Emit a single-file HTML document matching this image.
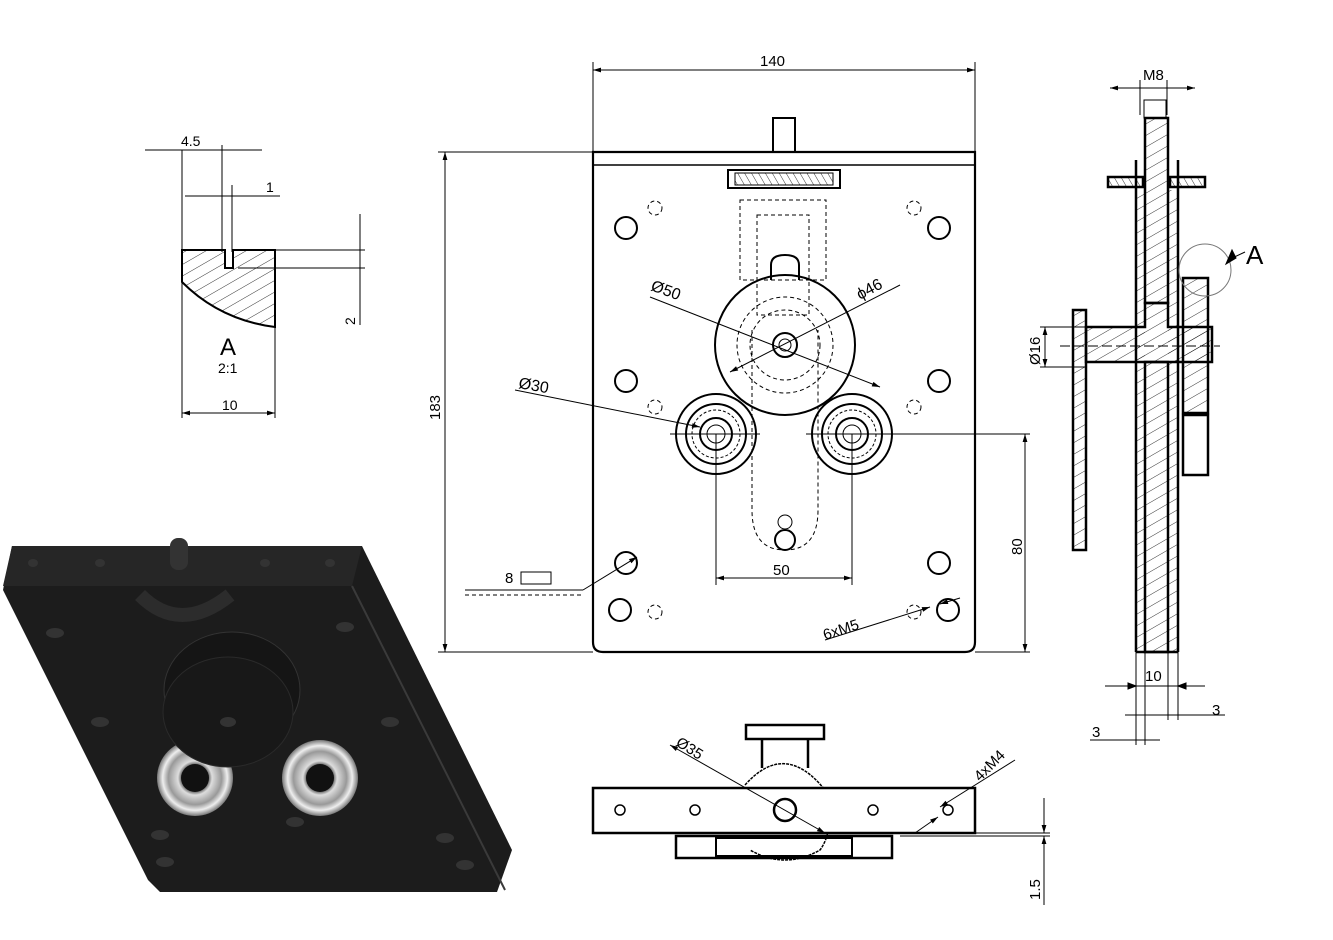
<!DOCTYPE html>
<html><head><meta charset="utf-8"><style>
html,body{margin:0;padding:0;background:#fff;}
svg{display:block;font-family:"Liberation Sans",sans-serif;}
</style></head><body>
<svg width="1333" height="940" viewBox="0 0 1333 940" xmlns="http://www.w3.org/2000/svg">
<defs>
<pattern id="h" width="10" height="10" patternUnits="userSpaceOnUse" patternTransform="rotate(60)"><line x1="0" y1="0" x2="0" y2="10" stroke="#000" stroke-width="0.8"/></pattern>
<pattern id="h2" width="6" height="6" patternUnits="userSpaceOnUse" patternTransform="rotate(-30)"><line x1="0" y1="0" x2="0" y2="6" stroke="#000" stroke-width="0.8"/></pattern>
<marker id="a" viewBox="0 0 10 10" refX="10" refY="5" markerWidth="10" markerHeight="8" orient="auto-start-reverse"><path d="M0,2 L10,5 L0,8z" fill="#000"/></marker>
<radialGradient id="g" cx="0.5" cy="0.5" r="0.5"><stop offset="0.3" stop-color="#222"/><stop offset="0.45" stop-color="#ddd"/><stop offset="0.7" stop-color="#999"/><stop offset="0.85" stop-color="#eee"/><stop offset="1" stop-color="#777"/></radialGradient>
</defs>
<g stroke="#000" fill="none" stroke-width="1">
<line x1="145" y1="150" x2="262" y2="150"/><line x1="182" y1="150" x2="182" y2="418"/><line x1="222" y1="145" x2="222" y2="252"/><line x1="232" y1="185" x2="232" y2="252"/>
<line x1="185" y1="196" x2="280" y2="196"/>
<line x1="275" y1="250" x2="365" y2="250"/><line x1="238" y1="268" x2="365" y2="268"/><line x1="360" y1="214" x2="360" y2="325"/>
<path d="M182,250 H225 V268 H233 V250 H275 V327 Q220,320 182,282 Z" fill="url(#h)" stroke-width="2"/>
<line x1="275" y1="327" x2="275" y2="418"/><line x1="182" y1="413" x2="275" y2="413" marker-start="url(#a)" marker-end="url(#a)"/>
</g>
<g font-size="14">
<text x="181" y="146">4.5</text><text x="266" y="192">1</text>
<text x="220" y="355" font-size="24">A</text><text x="218" y="373">2:1</text><text x="222" y="410">10</text>
<text x="355" y="325" transform="rotate(-90 355 325)">2</text>
</g>
<g stroke="#000" fill="none" stroke-width="1">
<line x1="593" y1="70" x2="975" y2="70" marker-start="url(#a)" marker-end="url(#a)"/>
<line x1="593" y1="62" x2="593" y2="152"/><line x1="975" y1="62" x2="975" y2="152"/>
<line x1="438" y1="152" x2="593" y2="152"/><line x1="438" y1="652" x2="593" y2="652"/>
<line x1="445" y1="152" x2="445" y2="652" marker-start="url(#a)" marker-end="url(#a)"/>
<path d="M593,152 H975 V642 Q975,652 965,652 H603 Q593,652 593,642 Z" stroke-width="2.2"/>
<line x1="593" y1="165" x2="975" y2="165" stroke-width="1.5"/>
<rect x="773" y="118" width="22" height="34" stroke-width="2"/>
<rect x="728" y="170" width="112" height="18" stroke-width="2"/>
<rect x="735" y="173" width="98" height="12" fill="url(#h2)"/>
<g stroke-dasharray="4,3">
<rect x="740" y="200" width="86" height="80"/><rect x="757" y="215" width="52" height="100"/>
<path d="M752,330 V510 Q752,550 785,550 Q818,550 818,510 V330"/>
<circle cx="785" cy="345" r="48"/><circle cx="785" cy="345" r="35"/>
<circle cx="655" cy="208" r="7"/><circle cx="914" cy="208" r="7"/><circle cx="655" cy="407" r="7"/><circle cx="914" cy="407" r="7"/><circle cx="655" cy="612" r="7"/><circle cx="914" cy="612" r="7"/>
<line x1="465" y1="595" x2="583" y2="595"/>
</g>
<path d="M771,280 V265 Q771,255 785,255 Q799,255 799,265 V280" stroke-width="2"/>
<circle cx="785" cy="345" r="70" stroke-width="2"/>
<circle cx="785" cy="345" r="12" stroke-width="2"/><circle cx="785" cy="345" r="6"/>
<circle cx="785" cy="540" r="10" stroke-width="2"/><circle cx="785" cy="522" r="7"/>
<g stroke-width="2">
<circle cx="626" cy="228" r="11"/><circle cx="939" cy="228" r="11"/><circle cx="626" cy="381" r="11"/><circle cx="939" cy="381" r="11"/><circle cx="626" cy="563" r="11"/><circle cx="939" cy="563" r="11"/><circle cx="620" cy="610" r="11"/><circle cx="948" cy="610" r="11"/>
<circle cx="716" cy="434" r="40"/><circle cx="716" cy="434" r="30"/><circle cx="716" cy="434" r="16"/>
<circle cx="852" cy="434" r="40"/><circle cx="852" cy="434" r="30"/><circle cx="852" cy="434" r="16"/>
</g>
<circle cx="716" cy="434" r="24" stroke-dasharray="3,2"/><circle cx="852" cy="434" r="24" stroke-dasharray="3,2"/>
<circle cx="716" cy="434" r="9"/><circle cx="852" cy="434" r="9"/>
<line x1="670" y1="434" x2="760" y2="434"/><line x1="806" y1="434" x2="1030" y2="434"/>
<line x1="716" y1="434" x2="716" y2="585"/><line x1="852" y1="434" x2="852" y2="585"/>
<line x1="716" y1="578" x2="852" y2="578" marker-start="url(#a)" marker-end="url(#a)"/>
<line x1="975" y1="652" x2="1030" y2="652"/>
<line x1="1025" y1="434" x2="1025" y2="652" marker-start="url(#a)" marker-end="url(#a)"/>
<line x1="650" y1="297" x2="880" y2="387" marker-end="url(#a)"/>
<line x1="900" y1="285" x2="730" y2="372" marker-end="url(#a)"/>
<line x1="515" y1="390" x2="700" y2="427" marker-end="url(#a)"/>
<line x1="465" y1="590" x2="583" y2="590"/><rect x="521" y="572" width="30" height="12"/>
<line x1="583" y1="590" x2="637" y2="557" marker-end="url(#a)"/>
<line x1="825" y1="640" x2="930" y2="607" marker-end="url(#a)"/><line x1="960" y1="598" x2="940" y2="604" marker-end="url(#a)"/>
</g>
<g font-size="15">
<text x="760" y="66">140</text>
<text x="440" y="420" transform="rotate(-90 440 420)">183</text>
<text x="1022" y="555" transform="rotate(-90 1022 555)">80</text>
<text x="773" y="575">50</text>
<text x="505" y="583">8</text>
<text x="650" y="290" font-size="16" transform="rotate(20 650 290)">Ø50</text>
<text x="860" y="300" font-size="16" transform="rotate(-28 860 300)">ϕ46</text>
<text x="518" y="388" font-size="16" transform="rotate(10 518 388)">Ø30</text>
<text x="825" y="640" transform="rotate(-18 825 640)">6xM5</text>
</g>
<g stroke="#000" fill="none">
<line x1="1140" y1="80" x2="1140" y2="115"/><line x1="1167" y1="80" x2="1167" y2="115"/>
<line x1="1110" y1="88" x2="1195" y2="88" marker-start="url(#a)" marker-end="url(#a)"/>
<rect x="1144" y="100" width="22" height="18" stroke-width="1"/>
<g stroke-width="2.5">
<rect x="1145" y="118" width="23" height="185" fill="url(#h)"/>
<rect x="1108" y="177" width="35" height="10" fill="url(#h2)"/><rect x="1170" y="177" width="35" height="10" fill="url(#h2)"/>
<line x1="1136" y1="160" x2="1136" y2="652"/><line x1="1178" y1="160" x2="1178" y2="652"/>
<rect x="1183" y="278" width="25" height="135" fill="url(#h)"/>
<rect x="1183" y="415" width="25" height="60"/>
<rect x="1073" y="310" width="13" height="240" fill="url(#h)"/>
<path d="M1086,327 H1145 V303 H1168 V327 H1212 V362 H1168 H1086 Z" fill="url(#h)"/>
<rect x="1145" y="362" width="23" height="290" fill="url(#h)"/>
<line x1="1136" y1="652" x2="1178" y2="652"/>
</g>
<rect x="1136" y="190" width="9" height="462" fill="url(#h)" stroke-width="0"/>
<rect x="1168" y="190" width="10" height="462" fill="url(#h)" stroke-width="0"/>
<line x1="1060" y1="346" x2="1220" y2="346" stroke-dasharray="10,4"/>
<circle cx="1205" cy="270" r="26" stroke="#777"/>
<line x1="1228" y1="260" x2="1245" y2="252"/><path d="M1226,264 L1232,250 L1236,258 z" fill="#000"/>
<line x1="1040" y1="327" x2="1086" y2="327"/><line x1="1040" y1="367" x2="1086" y2="367"/>
<line x1="1045" y1="327" x2="1045" y2="367" marker-start="url(#a)" marker-end="url(#a)"/>
<line x1="1136" y1="652" x2="1136" y2="745"/><line x1="1145" y1="652" x2="1145" y2="745"/><line x1="1168" y1="652" x2="1168" y2="720"/><line x1="1178" y1="652" x2="1178" y2="720"/>
<line x1="1105" y1="686" x2="1205" y2="686"/>
<path d="M1136,686 l-8,-3 v6z M1178,686 l8,-3 v6z" fill="#000"/>
<line x1="1125" y1="715" x2="1225" y2="715"/><line x1="1090" y1="740" x2="1160" y2="740"/>
</g>
<g font-size="15">
<text x="1143" y="80">M8</text><text x="1246" y="264" font-size="26">A</text>
<text x="1040" y="365" transform="rotate(-90 1040 365)">Ø16</text>
<text x="1145" y="681">10</text><text x="1212" y="715">3</text><text x="1092" y="737">3</text>
</g>
<g stroke="#000" fill="none">
<rect x="746" y="725" width="78" height="14" stroke-width="2.5"/>
<line x1="762" y1="739" x2="762" y2="768" stroke-width="2.5"/><line x1="808" y1="739" x2="808" y2="768" stroke-width="2.5"/>
<path d="M745,785 Q785,740 825,790 Q835,830 820,850 Q785,870 750,850" stroke-width="1.5" stroke-dasharray="3,1"/>
<rect x="593" y="788" width="382" height="45" stroke-width="2.5" fill="#fff"/>
<rect x="676" y="836" width="216" height="22" stroke-width="2.5"/>
<rect x="716" y="838" width="136" height="18" stroke-width="2"/>
<circle cx="620" cy="810" r="5" stroke-width="1.5"/><circle cx="695" cy="810" r="5" stroke-width="1.5"/><circle cx="785" cy="810" r="11" stroke-width="2.5"/><circle cx="873" cy="810" r="5" stroke-width="1.5"/><circle cx="948" cy="810" r="5" stroke-width="1.5"/>
<line x1="670" y1="745" x2="825" y2="833" marker-start="url(#a)" marker-end="url(#a)"/>
<line x1="1015" y1="760" x2="940" y2="807" marker-end="url(#a)"/><line x1="915" y1="833" x2="938" y2="817" marker-end="url(#a)"/>
<line x1="975" y1="833" x2="1050" y2="833"/><line x1="900" y1="836" x2="1050" y2="836"/>
<line x1="1044" y1="798" x2="1044" y2="833" marker-end="url(#a)"/><line x1="1044" y1="905" x2="1044" y2="836" marker-end="url(#a)"/>
</g>
<g font-size="15">
<text x="675" y="745" transform="rotate(32 675 745)">Ø35</text>
<text x="980" y="782" transform="rotate(-45 980 782)">4xM4</text>
<text x="1040" y="900" transform="rotate(-90 1040 900)">1.5</text>
</g>
<!-- 3D render -->
<polygon points="12,546 362,546 512,850 497,892 160,892 148,880 3,590" fill="#1c1c1c"/>
<polygon points="3,586 352,586 362,546 12,546" fill="#262626"/>
<line x1="352" y1="586" x2="505" y2="890" stroke="#3a3a3a" stroke-width="2"/>
<rect x="170" y="538" width="18" height="32" rx="8" fill="#333"/>
<path d="M140,595 Q180,635 230,595" stroke="#2c2c2c" stroke-width="14" fill="none"/>
<circle cx="195" cy="778" r="38" fill="url(#g)"/><circle cx="195" cy="778" r="14" fill="#111"/>
<circle cx="320" cy="778" r="38" fill="url(#g)"/><circle cx="320" cy="778" r="14" fill="#111"/>
<ellipse cx="232" cy="690" rx="68" ry="58" fill="#151515" stroke="#333"/>
<ellipse cx="228" cy="712" rx="65" ry="55" fill="#181818" stroke="#2a2a2a"/>
<ellipse cx="228" cy="722" rx="8" ry="5" fill="#333"/>
<g fill="#333"><ellipse cx="55" cy="633" rx="9" ry="5"/><ellipse cx="345" cy="627" rx="9" ry="5"/><ellipse cx="100" cy="722" rx="9" ry="5"/><ellipse cx="390" cy="722" rx="9" ry="5"/><ellipse cx="160" cy="835" rx="9" ry="5"/><ellipse cx="295" cy="822" rx="9" ry="5"/><ellipse cx="445" cy="838" rx="9" ry="5"/><ellipse cx="165" cy="862" rx="9" ry="5"/><ellipse cx="465" cy="865" rx="9" ry="5"/>
<ellipse cx="33" cy="563" rx="5" ry="4"/><ellipse cx="100" cy="563" rx="5" ry="4"/><ellipse cx="265" cy="563" rx="5" ry="4"/><ellipse cx="330" cy="563" rx="5" ry="4"/></g>
</svg>
</body></html>
